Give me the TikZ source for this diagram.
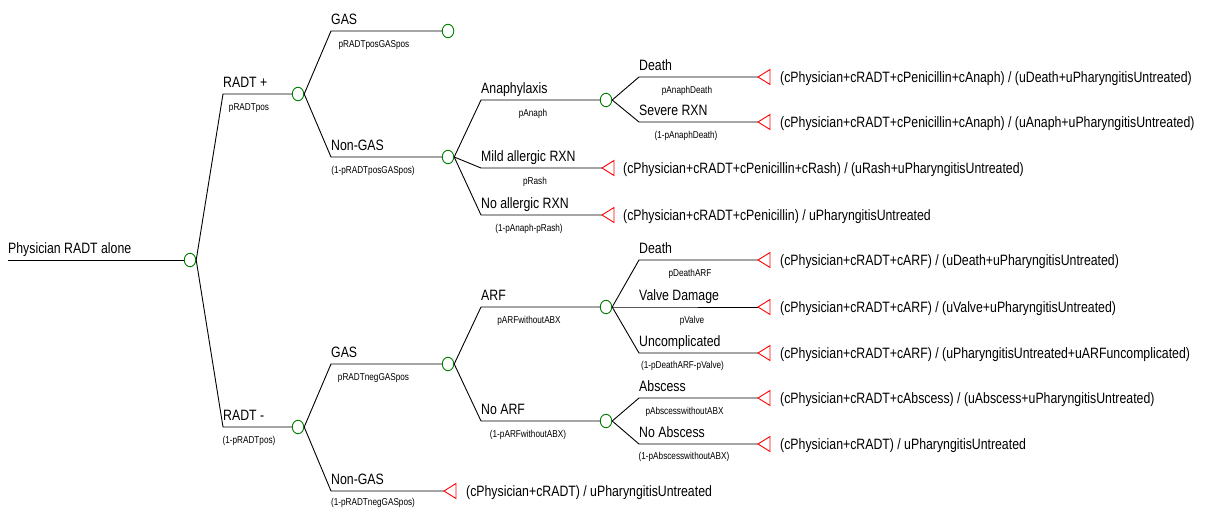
\documentclass[tikz,border=0pt]{standalone}
\usepackage{fontspec}
\setmainfont{Liberation Sans}[FakeStretch=0.82]
\usetikzlibrary{shapes.geometric}
\definecolor{cgreen}{RGB}{0,128,0}
\definecolor{tred}{RGB}{255,0,0}
\begin{document}
\begin{tikzpicture}[x=1pt,y=-1pt,
  chance/.style={ellipse, draw=cgreen, line width=0.9pt, minimum width=11.5pt, minimum height=13.5pt, inner sep=0pt},
  term/.style={inner sep=0pt, minimum size=0pt, outer sep=0pt},
  br/.style={draw=black, line width=0.9pt},
  tri/.style={draw=tred, line width=0.9pt, line join=miter},
  lbl/.style={anchor=base west, inner sep=0pt, font=\fontsize{15}{18}\selectfont},
  prob/.style={anchor=base, inner sep=0pt, font=\fontsize{10}{12}\selectfont},
  pay/.style={anchor=base west, inner sep=0pt, font=\fontsize{15}{18}\selectfont},
]
\useasboundingbox (0,0) rectangle (1209,509);

% root
\coordinate (root) at (8,260);
\node[chance] (c0) at (190,260) {};
\draw[br] (root) -- (c0.west);
\node[lbl] (lroot) at (8,253) {Physician RADT alone};

% level 1
\node[chance] (c1) at (298,94) {};
\node[chance] (c2) at (298,427) {};
\coordinate (k1) at (223,94);
\coordinate (k2) at (223,427);
\draw[br] (c0.east) -- (k1) -- (c1.west);
\draw[br] (c0.east) -- (k2) -- (c2.west);
\node[lbl] (l1) at (223,87) {RADT +};
\node[prob] (p1) at (249,110.5) {pRADTpos};
\node[lbl] (l2) at (223,420) {RADT -};
\node[prob] (p2) at (249,443.5) {(1-pRADTpos)};

% level 2 (RADT+)
\node[chance] (c11) at (448,31) {};
\node[chance] (c12) at (448,157) {};
\coordinate (k11) at (331,31);
\coordinate (k12) at (331,157);
\draw[br] (c1.east) -- (k11) -- (c11.west);
\draw[br] (c1.east) -- (k12) -- (c12.west);
\node[lbl] (l11) at (331,24) {GAS};
\node[prob] (p11) at (374,47.5) {pRADTposGASpos};
\node[lbl] (l12) at (331,150) {Non-GAS};
\node[prob] (p12) at (373,173.5) {(1-pRADTposGASpos)};

% level 2 (RADT-)
\node[chance] (c21) at (448,364) {};
\node[term] (t22) at (444,491) {};
\coordinate (k21) at (331,364);
\coordinate (k22) at (331,491);
\draw[br] (c2.east) -- (k21) -- (c21.west);
\draw[br] (c2.east) -- (k22) -- (t22);
\node[lbl] (l21) at (331,357) {GAS};
\node[prob] (p21) at (373.5,380.5) {pRADTnegGASpos};
\node[lbl] (l22) at (331,484) {Non-GAS};
\node[prob] (p22) at (373,505.5) {(1-pRADTnegGASpos)};
\node[pay] (v22) at (466,496.5) {(cPhysician+cRADT) / uPharyngitisUntreated};

% level 3 (Non-GAS after RADT+)
\node[chance] (c121) at (606,100) {};
\node[term] (t122) at (602,168) {};
\node[term] (t123) at (602,215) {};
\coordinate (k121) at (481,100);
\coordinate (k122) at (481,168);
\coordinate (k123) at (481,215);
\draw[br] (c12.east) -- (k121) -- (c121.west);
\draw[br] (c12.east) -- (k122) -- (t122);
\draw[br] (c12.east) -- (k123) -- (t123);
\node[lbl] (l121) at (481,93) {Anaphylaxis};
\node[prob] (p121) at (533,116.5) {pAnaph};
\node[lbl] (l122) at (481,161) {Mild allergic RXN};
\node[prob] (p122) at (535,184.5) {pRash};
\node[lbl] (l123) at (481,208) {No allergic RXN};
\node[prob] (p123) at (529,231.5) {(1-pAnaph-pRash)};
\node[pay] (v122) at (623,173.5) {(cPhysician+cRADT+cPenicillin+cRash) / (uRash+uPharyngitisUntreated)};
\node[pay] (v123) at (623,220.5) {(cPhysician+cRADT+cPenicillin) / uPharyngitisUntreated};

% level 4 (Anaphylaxis)
\node[term] (t1211) at (758,77) {};
\node[term] (t1212) at (758,122) {};
\coordinate (k1211) at (639,77);
\coordinate (k1212) at (639,122);
\draw[br] (c121.east) -- (k1211) -- (t1211);
\draw[br] (c121.east) -- (k1212) -- (t1212);
\node[lbl] (l1211) at (639,70) {Death};
\node[prob] (p1211) at (687,93.5) {pAnaphDeath};
\node[lbl] (l1212) at (639,115) {Severe RXN};
\node[prob] (p1212) at (686,138.5) {(1-pAnaphDeath)};
\node[pay] (v1211) at (780,82.5) {(cPhysician+cRADT+cPenicillin+cAnaph) / (uDeath+uPharyngitisUntreated)};
\node[pay] (v1212) at (780,127.5) {(cPhysician+cRADT+cPenicillin+cAnaph) / (uAnaph+uPharyngitisUntreated)};

% level 3 (GAS after RADT-)
\node[chance] (c211) at (606,307) {};
\node[chance] (c212) at (606,421) {};
\coordinate (k211) at (481,307);
\coordinate (k212) at (481,421);
\draw[br] (c21.east) -- (k211) -- (c211.west);
\draw[br] (c21.east) -- (k212) -- (c212.west);
\node[lbl] (l211) at (481,300) {ARF};
\node[prob] (p211) at (529,323.5) {pARFwithoutABX};
\node[lbl] (l212) at (481,414) {No ARF};
\node[prob] (p212) at (528,437.5) {(1-pARFwithoutABX)};

% level 4 (ARF)
\node[term] (t2111) at (758,260) {};
\node[term] (t2112) at (758,307) {};
\node[term] (t2113) at (758,353) {};
\coordinate (k2111) at (639,260);
\coordinate (k2112) at (639,307);
\coordinate (k2113) at (639,353);
\draw[br] (c211.east) -- (k2111) -- (t2111);
\draw[br] (c211.east) -- (k2112) -- (t2112);
\draw[br] (c211.east) -- (k2113) -- (t2113);
\node[lbl] (l2111) at (639,253) {Death};
\node[prob] (p2111) at (690,276.5) {pDeathARF};
\node[lbl] (l2112) at (639,300) {Valve Damage};
\node[prob] (p2112) at (692,323.5) {pValve};
\node[lbl] (l2113) at (639,346) {Uncomplicated};
\node[prob] (p2113) at (682.5,368.5) {(1-pDeathARF-pValve)};
\node[pay] (v2111) at (780,265.5) {(cPhysician+cRADT+cARF) / (uDeath+uPharyngitisUntreated)};
\node[pay] (v2112) at (780,312.5) {(cPhysician+cRADT+cARF) / (uValve+uPharyngitisUntreated)};
\node[pay] (v2113) at (780,358.5) {(cPhysician+cRADT+cARF) / (uPharyngitisUntreated+uARFuncomplicated)};

% level 4 (No ARF)
\node[term] (t2121) at (758,398) {};
\node[term] (t2122) at (758,444) {};
\coordinate (k2121) at (639,398);
\coordinate (k2122) at (639,444);
\draw[br] (c212.east) -- (k2121) -- (t2121);
\draw[br] (c212.east) -- (k2122) -- (t2122);
\node[lbl] (l2121) at (639,391) {Abscess};
\node[prob] (p2121) at (684.5,414.5) {pAbscesswithoutABX};
\node[lbl] (l2122) at (639,437) {No Abscess};
\node[prob] (p2122) at (684,459.5) {(1-pAbscesswithoutABX)};
\node[pay] (v2121) at (780,403.5) {(cPhysician+cRADT+cAbscess) / (uAbscess+uPharyngitisUntreated)};
\node[pay] (v2122) at (780,449.5) {(cPhysician+cRADT) / uPharyngitisUntreated};

% terminal triangles
\foreach \t in {t22,t122,t123,t1211,t1212,t2111,t2112,t2113,t2121,t2122}
  \draw[tri] (\t) -- ++(12,-7.5) -- ++(0,15) -- cycle;
\end{tikzpicture}
\end{document}
